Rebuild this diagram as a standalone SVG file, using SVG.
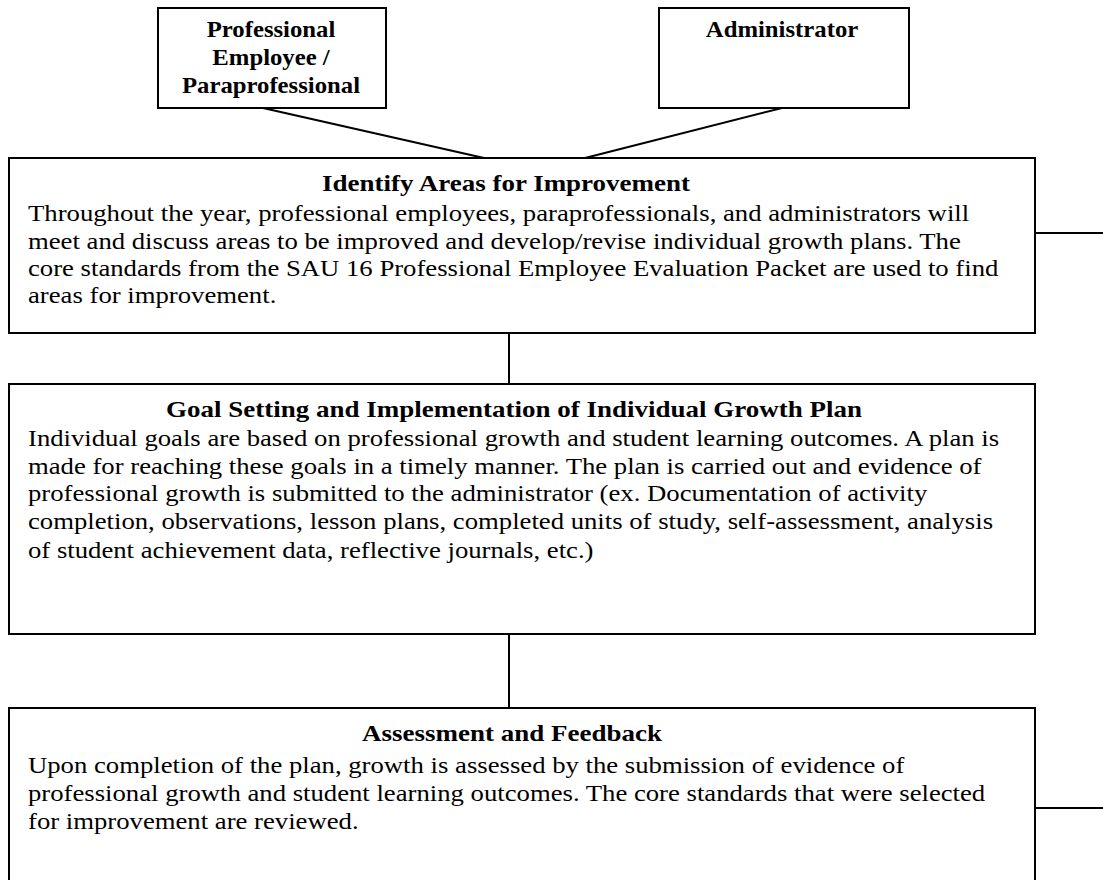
<svg xmlns="http://www.w3.org/2000/svg" width="1103" height="880" viewBox="0 0 1103 880">
<style>
.box{fill:#fff;stroke:#000;stroke-width:2}
.ln{stroke:#000;stroke-width:2;fill:none}
.t{font-family:"Liberation Serif","Times New Roman",serif;font-weight:bold;font-size:24px;fill:#000}
.s{font-family:"Liberation Serif","Times New Roman",serif;font-weight:bold;font-size:24px;text-anchor:middle;fill:#000}
.b{font-family:"Liberation Serif","Times New Roman",serif;font-size:24px;fill:#000}
</style>
<rect width="1103" height="880" fill="#fff"/>
<g id="connectors">
<line class="ln" x1="263" y1="108" x2="484" y2="158"/>
<line class="ln" x1="782" y1="108" x2="585" y2="158"/>
<line class="ln" x1="509" y1="333" x2="509" y2="384"/>
<line class="ln" x1="509" y1="634" x2="509" y2="708"/>
<line class="ln" x1="1035" y1="233" x2="1103" y2="233"/>
<line class="ln" x1="1035" y1="808" x2="1103" y2="808"/>
</g>
<g id="professional">
<rect class="box" x="158" y="8" width="228" height="100"/>
<text class="s" transform="translate(271,37) scale(1.03,1)">Professional</text>
<text class="s" transform="translate(271,65) scale(1.03,1)">Employee /</text>
<text class="s" transform="translate(271,93) scale(1.03,1)">Paraprofessional</text>
</g>
<g id="administrator">
<rect class="box" x="659" y="8" width="250" height="100"/>
<text class="s" transform="translate(782,37) scale(1.03,1)">Administrator</text>
</g>
<g id="identify">
<rect class="box" x="9" y="158" width="1026" height="175"/>
<text class="t" transform="translate(322,191) scale(1.125,1)">Identify Areas for Improvement</text>
<text class="b" transform="translate(28,221) scale(1.113,1)">Throughout the year, professional employees, paraprofessionals, and administrators will</text>
<text class="b" transform="translate(28,249) scale(1.113,1)">meet and discuss areas to be improved and develop/revise individual growth plans. The</text>
<text class="b" transform="translate(28,276) scale(1.113,1)">core standards from the SAU 16 Professional Employee Evaluation Packet are used to find</text>
<text class="b" transform="translate(28,303) scale(1.113,1)">areas for improvement.</text>
</g>
<g id="goal">
<rect class="box" x="9" y="384" width="1026" height="250"/>
<text class="t" transform="translate(166,417) scale(1.125,1)">Goal Setting and Implementation of Individual Growth Plan</text>
<text class="b" transform="translate(28,446) scale(1.113,1)">Individual goals are based on professional growth and student learning outcomes. A plan is</text>
<text class="b" transform="translate(28,474) scale(1.113,1)">made for reaching these goals in a timely manner. The plan is carried out and evidence of</text>
<text class="b" transform="translate(28,501) scale(1.113,1)">professional growth is submitted to the administrator (ex. Documentation of activity</text>
<text class="b" transform="translate(28,529) scale(1.113,1)">completion, observations, lesson plans, completed units of study, self-assessment, analysis</text>
<text class="b" transform="translate(28,558) scale(1.113,1)">of student achievement data, reflective journals, etc.)</text>
</g>
<g id="assessment">
<rect class="box" x="9" y="708" width="1026" height="180"/>
<text class="t" text-anchor="middle" transform="translate(512,741) scale(1.125,1)">Assessment and Feedback</text>
<text class="b" transform="translate(28,773) scale(1.113,1)">Upon completion of the plan, growth is assessed by the submission of evidence of</text>
<text class="b" transform="translate(28,801) scale(1.113,1)">professional growth and student learning outcomes. The core standards that were selected</text>
<text class="b" transform="translate(28,829) scale(1.113,1)">for improvement are reviewed.</text>
</g>
</svg>
